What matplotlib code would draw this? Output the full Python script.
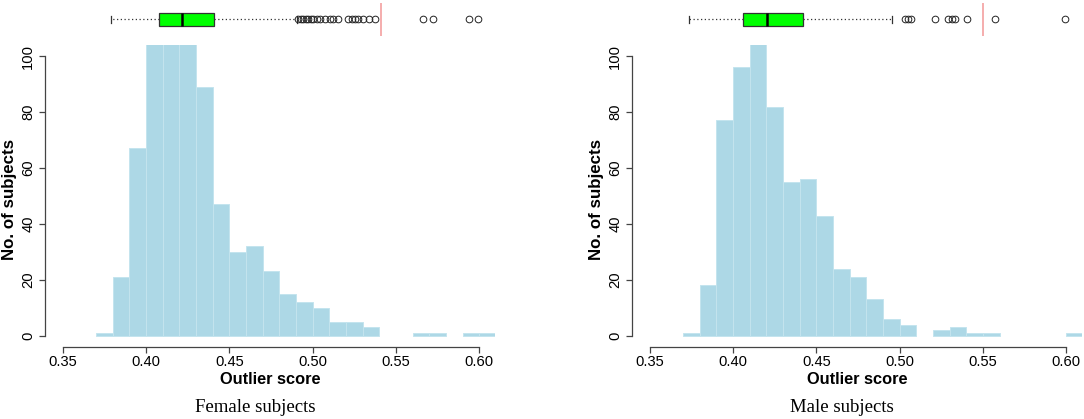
import numpy as np
import matplotlib
matplotlib.use("Agg")
import matplotlib.pyplot as plt

##-----------------------------
## data
##-----------------------------
bin_left = [round(0.37 + 0.01 * i, 2) for i in range(24)]   # 0.37 .. 0.60

female_counts = [1, 21, 67, 120, 138, 107, 89, 47, 30, 32, 23, 15,
                 12, 10, 5, 5, 3, 0, 0, 1, 1, 0, 1, 1]
male_counts = [1, 18, 77, 96, 120, 82, 55, 56, 43, 24, 21, 13,
               6, 4, 0, 2, 3, 1, 1, 0, 0, 0, 0, 1]

## boxplot summaries: whisker low, q1, median, q3, whisker high
female_box = [0.379, 0.4077, 0.4213, 0.4408, 0.4905]
male_box = [0.3738, 0.4059, 0.4201, 0.4420, 0.4952]

female_fliers = [0.4914, 0.4930, 0.4944, 0.4960, 0.4974, 0.4988, 0.5004,
                 0.5024, 0.5044, 0.5074, 0.5104, 0.5124, 0.5154, 0.5214,
                 0.5234, 0.5254, 0.5274, 0.5304, 0.5340, 0.5374,
                 0.5663, 0.5720, 0.5940, 0.5994]
male_fliers = [0.5033, 0.5050, 0.5070, 0.5209, 0.5292, 0.5313, 0.5334,
               0.5406, 0.5574, 0.5993]

female_cut = 0.541
male_cut = 0.550

x_ticks = [0.35, 0.40, 0.45, 0.50, 0.55, 0.60]
y_ticks = [0, 20, 40, 60, 80, 100]

panels = [("Female subjects", female_counts, female_box, female_fliers, female_cut, 45),
          ("Male subjects", male_counts, male_box, male_fliers, male_cut, 632)]

##-----------------------------
## layout (pixels of a 1084 x 419 image)
##-----------------------------
W, H = 1084, 419
fig = plt.figure(figsize=(W / 100, H / 100), dpi=100)

sans = "Liberation Sans"
serif = "Liberation Serif"
axis_col = "#444444"
xlim = (0.3394, 0.6094)

for title, counts, box, fliers, cut, left_px in panels:
    ## histogram (empty bins are not drawn, like R's hist)
    ax = fig.add_axes([left_px / W, (H - 347) / H, 450 / W, 302 / H])
    keep = [i for i, c in enumerate(counts) if c > 0]
    ax.bar([bin_left[i] for i in keep], [counts[i] for i in keep],
           width=0.01, align="edge",
           color="#add8e6", edgecolor="#c4e4ee", linewidth=0.7)
    ax.set_xlim(*xlim)
    ax.set_ylim(-4, 104)

    for s in ["top", "right"]:
        ax.spines[s].set_visible(False)
    ax.spines["left"].set_bounds(0, 100)
    ax.spines["bottom"].set_bounds(0.35, 0.60)
    for s in ["left", "bottom"]:
        ax.spines[s].set_color(axis_col)
        ax.spines[s].set_linewidth(0.9)

    ax.set_xticks(x_ticks)
    ax.set_xticklabels(["%.2f" % t for t in x_ticks], fontsize=10.6, family=sans)
    ax.set_yticks(y_ticks)
    ax.set_yticklabels([str(t) for t in y_ticks], fontsize=10.6, family=sans,
                       rotation=90, va="center", ha="right")
    ax.tick_params(axis="both", length=4, width=0.9, color=axis_col)
    ax.tick_params(axis="x", pad=1.5)
    ax.tick_params(axis="y", pad=3)

    ax.set_xlabel("Outlier score", fontsize=11.8, fontweight="bold", family=sans)
    ax.xaxis.set_label_coords(0.5, -0.109)
    ax.xaxis.label.set_va("center")
    ax.set_ylabel("No. of subjects", fontsize=12.2, fontweight="bold", family=sans)
    ax.yaxis.set_label_coords(-0.079, 0.49)
    ax.yaxis.label.set_va("center")

    ## boxplot strip on top
    bx = fig.add_axes([left_px / W, (H - 36) / H, 450 / W, 33 / H])
    stats = [dict(whislo=box[0], q1=box[1], med=box[2], q3=box[3],
                  whishi=box[4], fliers=fliers)]
    bx.bxp(stats, positions=[0.5], widths=0.4, capwidths=0.2, vert=False,
           patch_artist=True, showfliers=True,
           boxprops=dict(facecolor="#00ff00", edgecolor="#333333", linewidth=0.9),
           medianprops=dict(color="black", linewidth=1.8),
           whiskerprops=dict(color="#333333", linestyle=(0, (1, 2)), linewidth=0.9),
           capprops=dict(color="#333333", linewidth=0.9),
           flierprops=dict(marker="o", markerfacecolor="none",
                           markeredgecolor="#222222", markersize=4.8,
                           markeredgewidth=0.7))
    bx.axvline(cut, color="#f4a0a0", linewidth=1.2)
    bx.set_xlim(*xlim)
    bx.set_ylim(0, 1)
    bx.axis("off")

    ## caption under each panel
    fig.text((left_px + 210) / W, 1 - 407 / H, title, fontsize=13.5,
             family=serif, ha="center", va="center")

plt.savefig("out.png", dpi=100)
